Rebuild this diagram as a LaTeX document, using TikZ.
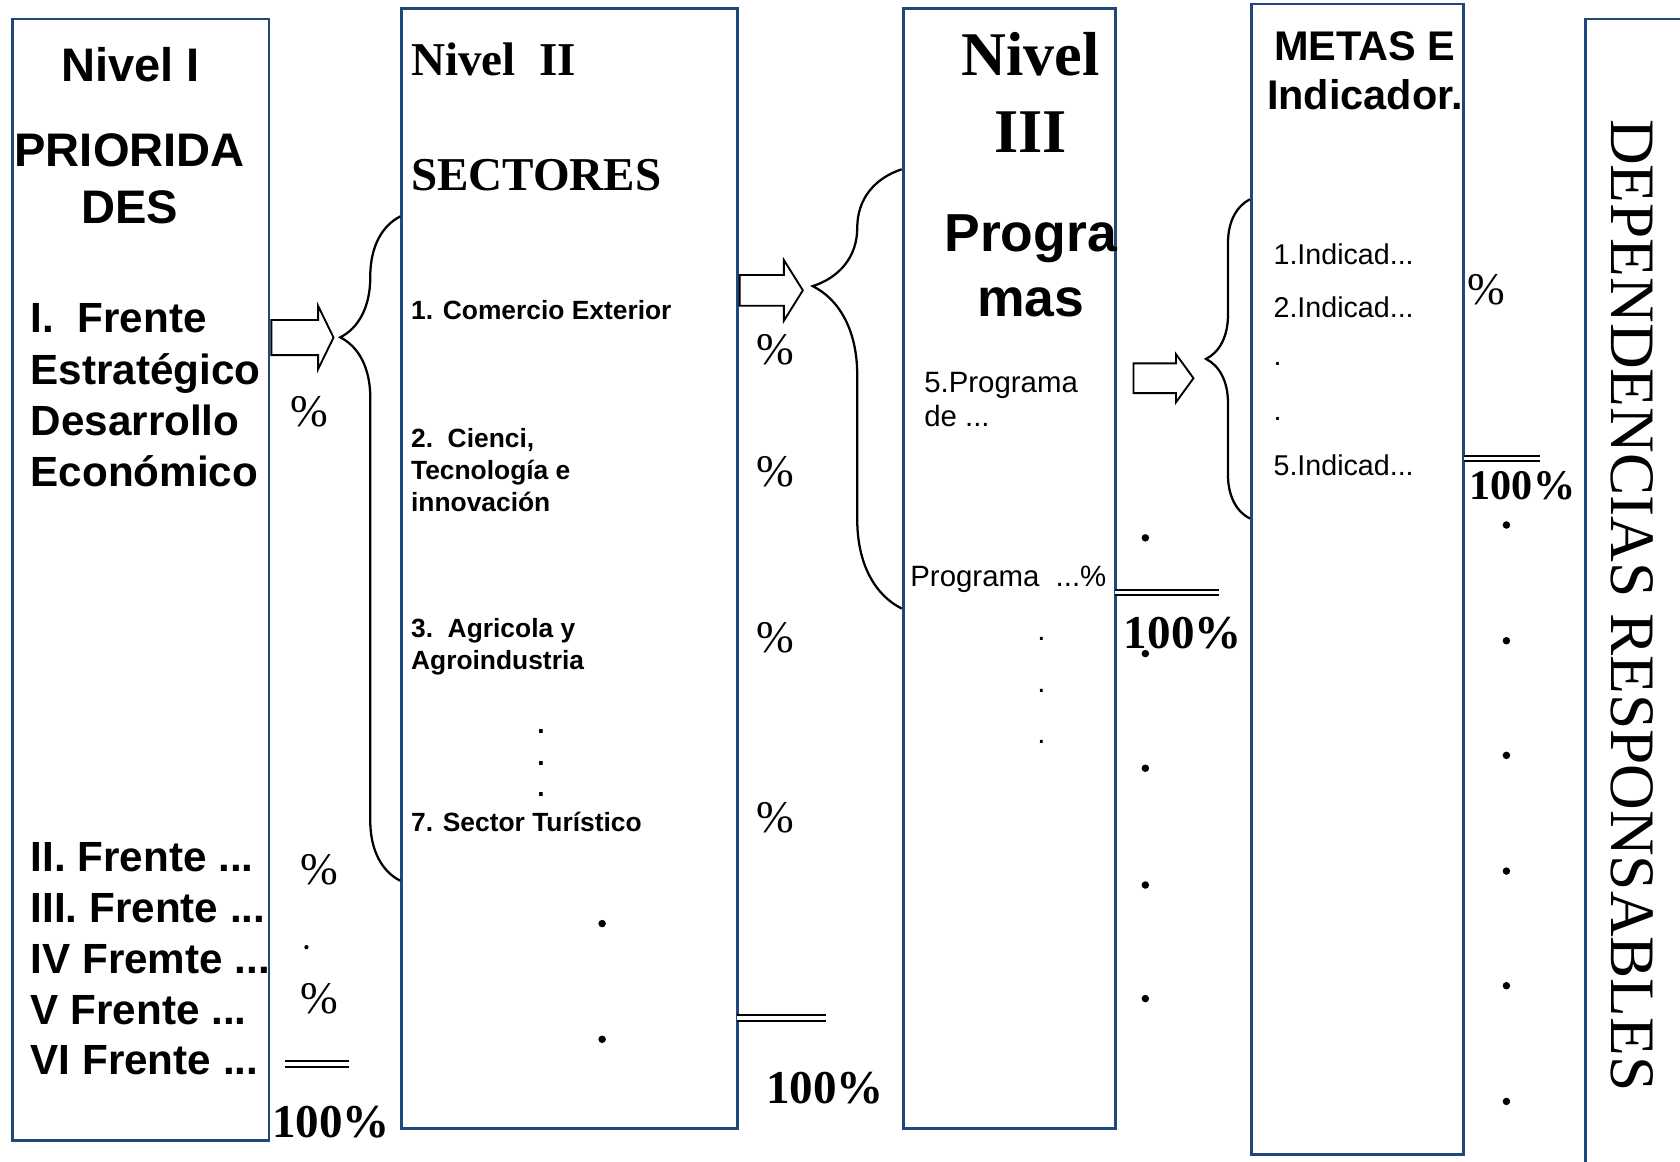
\documentclass[tikz,border=0pt]{standalone}
\usepackage{fontspec}
\setmainfont{Liberation Serif}
\newfontfamily\arialfont{Liberation Sans}
\usepackage{xcolor}
\usepackage{tikz}
\usetikzlibrary{shapes.arrows, decorations.pathreplacing, positioning}
\definecolor{boxblue}{RGB}{31,73,125}
\newcommand{\fsz}[2]{\fontsize{#1}{#2}\selectfont}

\begin{document}
\begin{tikzpicture}[x=0.01cm, y=-0.01cm,
    level/.style={rectangle, draw=boxblue, line width=0.75pt, inner sep=0pt},
    titA/.style={font=\arialfont\bfseries\fsz{12.5}{15}, align=center, inner sep=0pt},
    titT/.style={font=\bfseries\fsz{12.5}{15}, anchor=west, inner sep=0pt},
    frente/.style={font=\arialfont\bfseries\fsz{11.2}{13.6}, align=left, anchor=west, inner sep=0pt},
    sector/.style={font=\arialfont\bfseries\fsz{7}{8.5}, align=left, anchor=west, inner sep=0pt},
    prog/.style={font=\arialfont\fsz{7.8}{9.1}, align=left, anchor=west, inner sep=0pt},
    pct/.style={font=\fsz{12}{14}, inner sep=0pt},
    total/.style={font=\bfseries\fsz{12.5}{15}, inner sep=0pt},
    bullet/.style={circle, fill, inner sep=0pt, minimum size=0.07cm},
    harrow/.style={single arrow, draw, fill=white, inner xsep=0pt, line width=0.5pt, anchor=tail},
    brace/.style={decorate, line width=0.6pt},
    sumline/.style={double, line width=0.45pt, double distance=1pt}
]
    \useasboundingbox (0,0) rectangle (1568,1084);
    \clip (0,0) rectangle (1568,1084);

    % the five columns
    \node[level, minimum width=2.39cm, minimum height=10.46cm] (lvl1) at (131.5,541) {};
    \node[level, minimum width=3.13cm, minimum height=10.45cm] (lvl2) at (531.5,530.5) {};
    \node[level, minimum width=1.98cm, minimum height=10.45cm] (lvl3) at (942,530.5) {};
    \node[level, minimum width=1.98cm, minimum height=10.73cm] (lvl4) at (1267,540.5) {};
    \node[level, minimum width=1.60cm, minimum height=10.92cm] (dep) at (1560,564) {};

    % Nivel I
    \node[titA] (t1) at (122,60) {Nivel I};
    \node[titA] (prio) at (121,167) {PRIORIDA\\DES};
    \node[frente] (fr1) at (28,369) {I.~~Frente\\Estratégico\\Desarrollo\\Económico};
    \node[frente, font=\arialfont\bfseries\fsz{11.2}{13.5}] (frx) at (28,895) {II. Frente ...\\III. Frente ...\\IV Fremte ...\\V Frente ...\\VI Frente ...};
    \node[pct] (p11) at (289,384) {\%};
    \node[pct] (p12) at (298,812) {\%};
    \node[bullet, minimum size=0.04cm] (d11) at (286,884) {};
    \node[pct] (p13) at (298,932) {\%};
    \draw[sumline] (266,993) -- (326,993);
    \node[total] (s1) at (309,1047) {100\%};

    % Nivel II
    \node[titT] (t2) at (383,55) {Nivel~~II};
    \node[titT] (sect) at (383,163) {SECTORES};
    \node[sector] (sc1) at (383,289) {1. Comercio Exterior};
    \node[sector] (sc2) at (383,439) {2.~~Cienci,\\Tecnología e\\innovación};
    \node[sector] (sc3) at (383,603.5) {3.~~Agricola y\\Agroindustria};
    \foreach \y [count=\i] in {683,713,742}
        \node[font=\arialfont\bfseries\fsz{7}{8.5}, inner sep=0pt] (d2\i) at (505,\y) {.};
    \node[sector] (sc7) at (383,767) {7. Sector Turístico};
    \node[bullet] (b21) at (562,862) {};
    \node[bullet] (b22) at (562,970) {};
    \foreach \y [count=\i] in {326,440,595,763}
        \node[pct] (p2\i) at (724,\y) {\%};
    \draw[sumline, line width=0.6pt] (688,950) -- (771,950);
    \node[total] (s2) at (770,1016) {100\%};

    % Nivel III
    \node[font=\bfseries\fsz{16.5}{20.5}, align=center, inner sep=0pt] (t3) at (962,86) {Nivel\\III};
    \node[font=\arialfont\bfseries\fsz{14.2}{17.4}, align=center, inner sep=0pt] (progr) at (962,248) {Progra\\mas};
    \node[prog] (pg5) at (862,373) {5.Programa\\de ...};
    \node[prog] (pgx) at (849,541) {Programa~~...\%};
    \foreach \y [count=\i] in {596,645,692}
        \node[font=\arialfont\fsz{7.8}{9.1}, inner sep=0pt] (d3\i) at (972,\y) {.};
    \draw[sumline] (1041,553) -- (1138,553);
    \node[total] (s3) at (1104,591) {100\%};
    \foreach \y [count=\i] in {502,610,717,826,932}
        \node[bullet] (b3\i) at (1069,\y) {};

    % Metas e indicadores
    \node[font=\arialfont\bfseries\fsz{11}{13.1}, align=center, inner sep=0pt] (t4) at (1274,66) {METAS E\\Indicador.};
    \node[prog, font=\arialfont\fsz{7.6}{9}] (in1) at (1188,237) {1.Indicad...};
    \node[prog, font=\arialfont\fsz{7.6}{9}] (in2) at (1188,287) {2.Indicad...};
    \node[prog, font=\arialfont\fsz{7.6}{9}] (in3) at (1188,340) {.};
    \node[prog, font=\arialfont\fsz{7.6}{9}] (in4) at (1188,391) {.};
    \node[prog, font=\arialfont\fsz{7.6}{9}] (in5) at (1188,434) {5.Indicad...};
    \node[pct] (p4) at (1387,270) {\%};
    \draw[sumline] (1366,428) -- (1437,428);
    \node[total, font=\bfseries\fsz{11.2}{13}] (s4) at (1421,453) {100\%};
    \foreach \y [count=\i] in {490,598,705,813,920,1028}
        \node[bullet] (b4\i) at (1406,\y) {};

    % Dependencias
    \node[font=\fsz{16.8}{20}, rotate=-90, inner sep=0pt] (deptxt) at (1523,565) {DEPENDENCIAS RESPONSABLES};

    % hollow arrows
    \node[harrow, inner ysep=0.155cm, minimum height=0.58cm, single arrow head extend=0.13cm, single arrow tip angle=128] (ar1) at (lvl1.east |- 0,315) {};
    \node[harrow, inner ysep=0.135cm, minimum height=0.59cm, single arrow head extend=0.14cm, single arrow tip angle=116] (ar2) at (lvl2.east |- 0,271) {};
    \node[harrow, inner ysep=0.13cm, minimum height=0.56cm, single arrow head extend=0.085cm, single arrow tip angle=108] (ar3) at (1057,353) {};

    % braces
    \draw[brace, decoration={brace, amplitude=0.56cm, aspect=0.818}] (lvl2.west |- 0,822) -- (lvl2.west |- 0,202);
    \draw[brace, decoration={brace, amplitude=0.83cm, aspect=0.734}] (lvl3.west |- 0,568) -- (lvl3.west |- 0,158);
    \draw[brace, decoration={brace, amplitude=0.41cm, aspect=0.5}] (lvl4.west |- 0,484) -- (lvl4.west |- 0,186);
\end{tikzpicture}
\end{document}
